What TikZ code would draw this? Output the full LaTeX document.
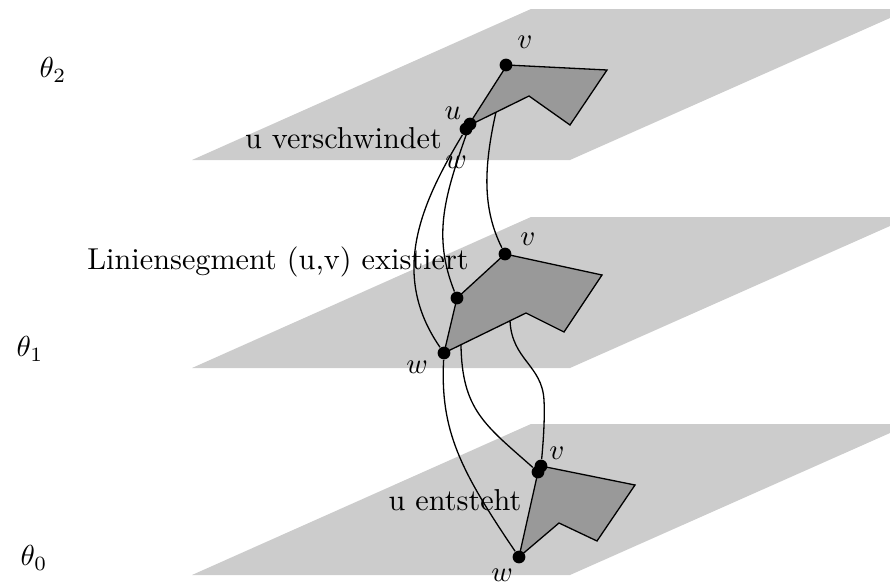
\documentclass[tikz,border=0pt]{standalone}
\usepackage{xcolor}
\definecolor{plane}{HTML}{CCCCCC}
\definecolor{patch}{HTML}{999999}

\begin{document}
\begin{tikzpicture}[
    x=0.01215cm, y=-0.01215cm,
    planeface/.style={fill=plane, draw=none},
    patchface/.style={fill=patch, draw=black, line width=0.45pt, line join=miter},
    dot/.style={circle, fill=black, inner sep=0pt, minimum size=4.4pt},
    lbl/.style={inner sep=0pt, font=\fontsize{10.45}{12}\selectfont},
    track/.style={draw=black, line width=0.45pt}
]
    \useasboundingbox (0,0) rectangle (890,585);

    \foreach \dy in {0,208,415} {
        \fill[planeface] (192,160+\dy) -- (531,9+\dy) -- (890,9+\dy) -- (890,18+\dy) -- (570,160+\dy) -- cycle;
    }

    \draw[patchface] (507,65) -- (607,70) -- (570,125) -- (529,96) -- (468,126) -- cycle;
    \draw[patchface] (505,254) -- (602,275) -- (564,332) -- (526,313) -- (444,353) -- (457,298) -- cycle;
    \draw[patchface] (541,466) -- (635,485) -- (597,541) -- (559,523) -- (519,557) -- (538,472) -- cycle;

    \node[lbl] (titop) at (53,70) {$\theta_2$};
    \node[lbl] (timid) at (30,349) {$\theta_1$};
    \node[lbl] (tibot) at (34,558) {$\theta_0$};

    \node[lbl] (vanish) at (343.5,138) {u verschwindet};
    \node[lbl] (exists) at (278,262) {Liniensegment (u,v) existiert};
    \node[lbl] (appear) at (455,500) {u entsteht};

    \node[lbl] (vtoplbl) at (525,42) {$v$};
    \node[lbl] (utoplbl) at (453,113) {$u$};
    \node[lbl] (wtoplbl) at (456,162) {$w$};
    \node[lbl] (vmidlbl) at (528,239) {$v$};
    \node[lbl] (wmidlbl) at (417,367) {$w$};
    \node[lbl] (vbotlbl) at (557,453) {$v$};
    \node[lbl] (wbotlbl) at (502,575) {$w$};

    \node[dot] (vtop) at (506,65) {};
    \node[dot] (utop) at (470,124) {};
    \node[dot] (wtop) at (466,129) {};
    \node[dot] (vmid) at (505,254) {};
    \node[dot] (umid) at (457,298) {};
    \node[dot] (wmid) at (444,353) {};
    \node[dot] (vbot) at (541,466) {};
    \node[dot] (ubot) at (538,472) {};
    \node[dot] (wbot) at (519,557) {};

    \coordinate (ctop) at (496,112);
    \coordinate (cmida) at (461,345);
    \coordinate (cmidb) at (510,321);
    \coordinate (cbend) at (544,400);

    \draw[track] (wtop) .. controls (420,205) and (390,275) .. (wmid);
    \draw[track] (utop) .. controls (445,195) and (432,235) .. (umid);
    \draw[track] (ctop) .. controls (483,170) and (483,210) .. (vmid);
    \draw[track] (wmid) .. controls (440,430) and (460,470) .. (wbot);
    \draw[track] (cmida) .. controls (462,410) and (485,425) .. (ubot);
    \draw[track] (cmidb) .. controls (512,360) and (542,365) .. (cbend) .. controls (545,420) and (543,445) .. (vbot);
\end{tikzpicture}
\end{document}
